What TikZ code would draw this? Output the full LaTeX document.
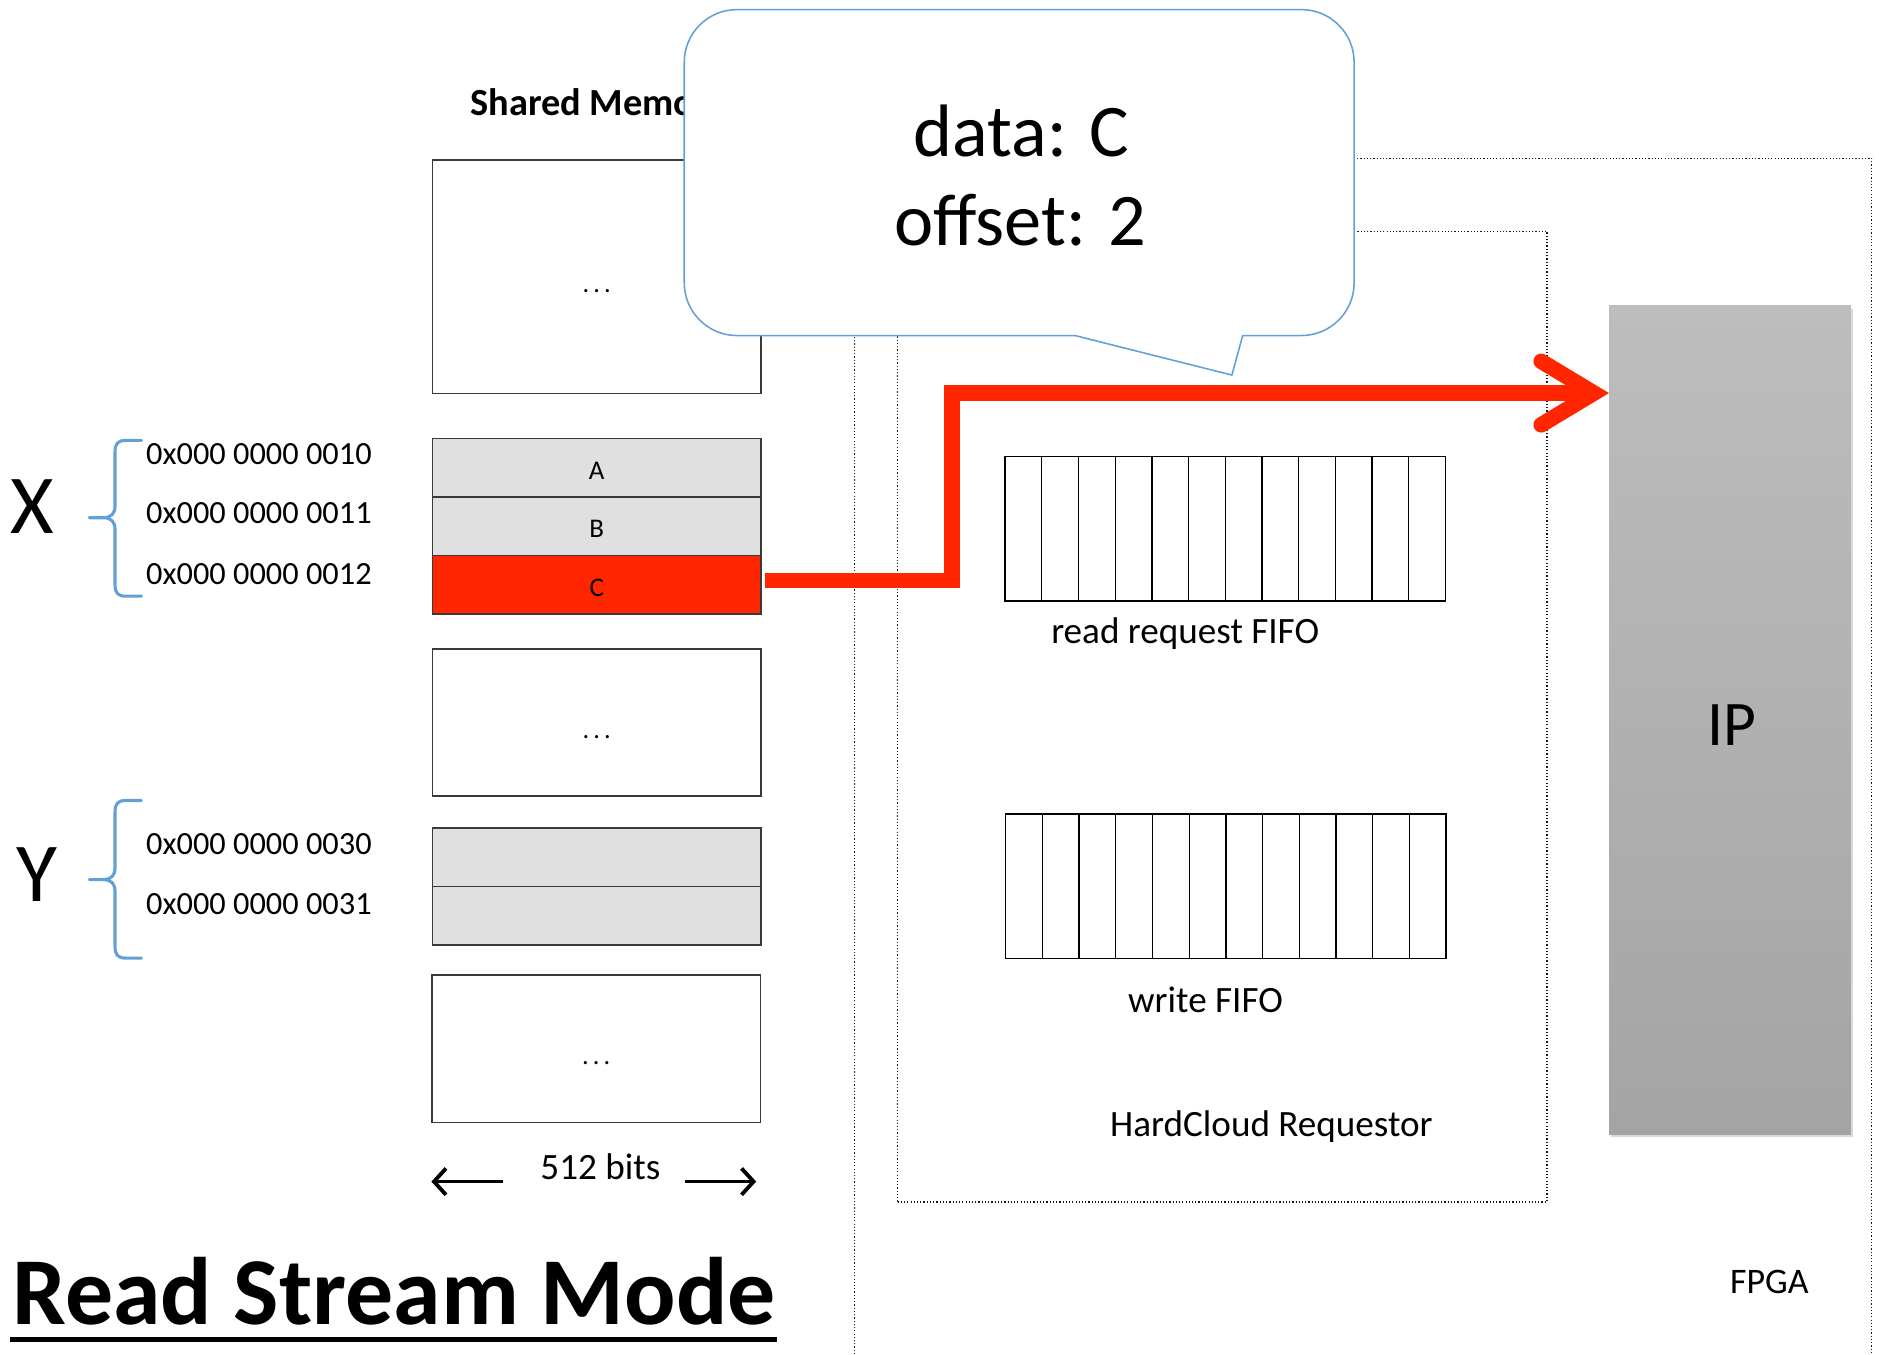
\documentclass[tikz,border=0pt]{standalone}
\usepackage{fontspec}
\setmainfont{Carlito}
\usetikzlibrary{arrows.meta,calc,shadows}

\definecolor{memgray}{HTML}{E0E0E0}
\definecolor{hotred}{HTML}{FF2600}
\definecolor{skyblue}{HTML}{64A0D8}
\definecolor{boxline}{HTML}{3A3A3A}
\definecolor{iptop}{HTML}{BDBDBD}
\definecolor{ipbot}{HTML}{A4A4A4}

\newcommand\fsz[1]{\fontsize{#1}{#1}\selectfont}

\begin{document}
\begin{tikzpicture}[x=1pt,y=-1pt,
  every node/.style={inner sep=0pt, outer sep=0pt},
  membox/.style={draw=boxline, line width=1.3pt, fill=white, minimum width=274pt},
  memrow/.style={membox, minimum height=48.8pt},
  celltext/.style={font=\fsz{22.5}},
  dots/.style={font=\fsz{22}, anchor=base},
  addr/.style={font=\fsz{27}, anchor=base west},
  varname/.style={font=\fsz{70}},
  fifo/.style={draw=black, line width=1.1pt, minimum width=367.5pt, minimum height=120.5pt},
  dotline/.style={draw=black!90, line width=1pt, dash pattern=on 1pt off 1.7pt},
  curly/.style={draw=skyblue, line width=2.6pt, line cap=round, line join=round},
  plain/.style={font=\fsz{31}, anchor=base},
  ipbox/.style={minimum width=201.9pt, minimum height=691.3pt,
    top color=iptop, bottom color=ipbot,
    drop shadow={shadow xshift=2pt, shadow yshift=-2.5pt, opacity=0.3}},
  bubble/.style={draw=skyblue, line width=1.3pt, fill=white},
  redline/.style={draw=hotred, line width=13pt, line join=miter},
  widtharrow/.style={line width=2pt, -{Straight Barb[length=10pt, width=22pt, line width=3.2pt]}}
]
\useasboundingbox (0,0) rectangle (1568,1130);

% FPGA region (open at the bottom) and the requestor block
\draw[dotline] (713,1130) -- (713,132) -- (1562,132) -- (1562,1130);
\node[dotline, draw, minimum width=542pt, minimum height=810pt] (hc) at (1020,598) {};

% shared memory column
\node[font=\bfseries\fsz{32}, anchor=base west] (shm) at (392.6,96) {Shared Memory};

\node[membox, minimum height=194.7pt] (top) at (498,230.85) {};
\node[dots] (topdots) at ([yshift=-13.4pt]top.center) {.\kern3.4pt.\kern3.4pt.};

\node[memrow, fill=memgray] (rowA) at (498,390.4) {};
\node[memrow, fill=memgray] (rowB) at (498,439.2) {};
\node[memrow, fill=hotred] (rowC) at (498,488.0) {};
\node[celltext] (labA) at ([yshift=-2.5pt]rowA.center) {A};
\node[celltext] (labB) at ([yshift=-2.5pt]rowB.center) {B};
\node[celltext] (labC) at ([yshift=-2.5pt]rowC.center) {C};

\node[membox, minimum height=122.8pt] (mid) at (498,602.9) {};
\node[dots] (middots) at ([yshift=-13.4pt]mid.center) {.\kern3.4pt.\kern3.4pt.};

\node[memrow, fill=memgray] (rowY1) at (498,715.3) {};
\node[memrow, fill=memgray] (rowY2) at (498,764.1) {};

\node[membox, minimum height=122.8pt] (bot) at (497.5,875.2) {};
\node[dots] (botdots) at ([yshift=-13.4pt]bot.center) {.\kern3.4pt.\kern3.4pt.};

% width marker under the column
\node[plain] (bits) at (501,984) {512 bits};
\coordinate (bitsLa) at (419.5,986);
\coordinate (bitsLb) at (360,986);
\coordinate (bitsRa) at (571.6,986);
\coordinate (bitsRb) at (631,986);
\draw[widtharrow] (bitsLa) -- (bitsLb);
\draw[widtharrow] (bitsRa) -- (bitsRb);

% variable X and its addresses
\node[varname] (X) at (27.3,423) {X};
\draw[curly] (118,367.5) -- (105,367.5) .. controls (98.5,367.5) and (96,370) .. (96,377)
  -- (96,422) .. controls (96,428.5) and (93,432) .. (86,432) -- (74.5,432)
  (74.5,432) -- (86,432) .. controls (93,432) and (96,435.5) .. (96,442)
  -- (96,488) .. controls (96,495) and (98.5,497.5) .. (105,497.5) -- (118,497.5);
\node[addr] (a10) at (122,387.7) {0x000 0000 0010};
\node[addr] (a11) at (122,437) {0x000 0000 0011};
\node[addr] (a12) at (122,488) {0x000 0000 0012};

% variable Y and its addresses
\node[varname] (Y) at (30.8,729.7) {Y};
\draw[curly] (118,668) -- (105,668) .. controls (98.5,668) and (96,670.5) .. (96,677.5)
  -- (96,724) .. controls (96,730.5) and (93,734) .. (86,734) -- (74.5,734)
  (74.5,734) -- (86,734) .. controls (93,734) and (96,737.5) .. (96,744)
  -- (96,790) .. controls (96,797) and (98.5,799.5) .. (105,799.5) -- (118,799.5);
\node[addr] (a30) at (122,712.7) {0x000 0000 0030};
\node[addr] (a31) at (122,763) {0x000 0000 0031};

% FIFOs inside the requestor
\node[fifo] (rq) at (1022.45,441.25) {};
\foreach \i in {1,...,11}
  \draw[line width=1.1pt] ($(rq.north west)!\i/12!(rq.north east)$) -- ($(rq.south west)!\i/12!(rq.south east)$);
\node[plain] (rqlab) at (989,537) {read request FIFO};

\node[fifo] (wr) at (1023,739.55) {};
\foreach \i in {1,...,11}
  \draw[line width=1.1pt] ($(wr.north west)!\i/12!(wr.north east)$) -- ($(wr.south west)!\i/12!(wr.south east)$);
\node[plain] (wrlab) at (1006,845) {write FIFO};

\node[plain] (hclab) at (1061,948.5) {HardCloud Requestor};
\node[plain, font=\fsz{30}] (fpgalab) at (1476.5,1079.3) {FPGA};

% IP core
\node[ipbox] (IP) at (1443.65,600.85) {};
\node[font=\fsz{53}] (iptext) at (1444.9,604.7) {IP};

% speech bubble with the request contents
\draw[bubble] (897,280) -- (1028,313) -- (1037,280) -- (1086,280)
  arc[start angle=90, end angle=0, radius=44] -- (1130,52)
  arc[start angle=0, end angle=-90, radius=44] -- (615,8)
  arc[start angle=-90, end angle=-180, radius=44] -- (571,236)
  arc[start angle=180, end angle=90, radius=44] -- cycle;
\node[font=\fsz{62}, anchor=base] (datatxt) at (852.3,131) {data: C};
\node[font=\fsz{62}, anchor=base] (offtxt) at (851.4,204.5) {offset: 2};

% data path from C to the IP
\coordinate (hit) at (IP.north west |- 0,328);
\coordinate (tipv) at ([xshift=-12.6pt]hit);
\draw[redline] ([xshift=3.5pt,yshift=3.5pt]rowC.east) -| (794.6,328) -- (tipv);
\draw[redline, line cap=round] ([xshift=-44pt,yshift=26.5pt]tipv) -- (tipv) -- ([xshift=-44pt,yshift=-26.5pt]tipv);

% title
\node[font=\bfseries\fsz{80}, anchor=base] (title) at (329,1105.5) {Read Stream Mode};
\fill (8,1115.4) rectangle (648,1119.8);
\end{tikzpicture}
\end{document}
